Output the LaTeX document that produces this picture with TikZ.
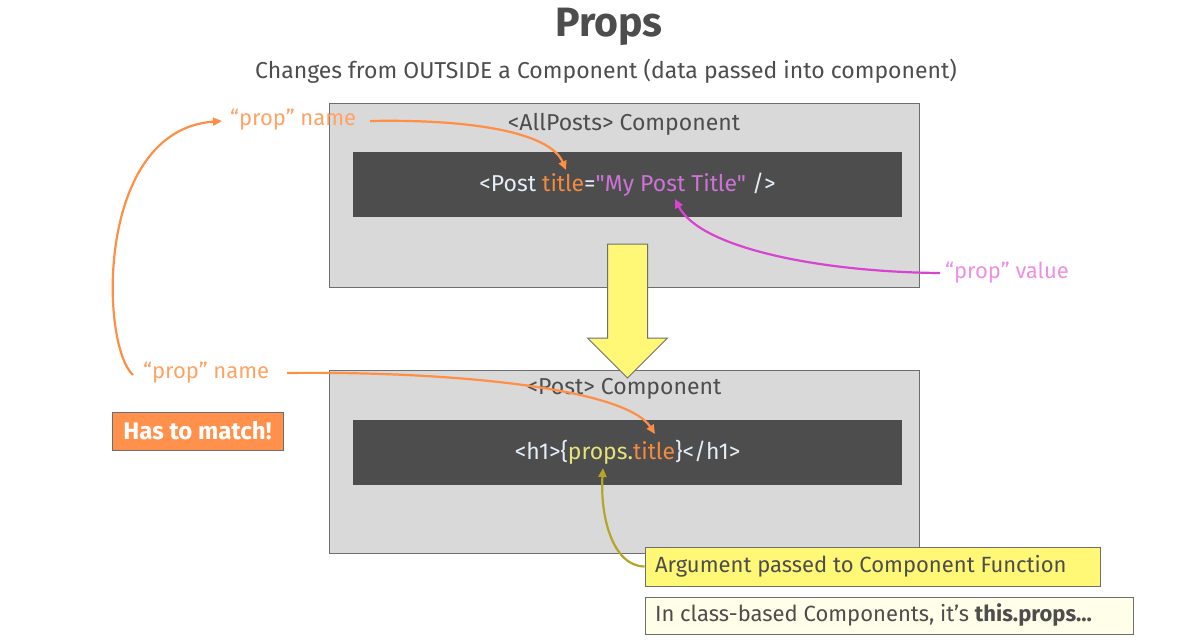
\documentclass[tikz,border=0pt]{standalone}
\usepackage{fontspec}
\setmainfont{Fira Sans}
\newfontfamily\codefont{Fira Sans}[Ligatures=TeXOff]
\usetikzlibrary{arrows.meta}
\definecolor{darkg}{HTML}{4D4D4D}
\definecolor{boxg}{HTML}{D9D9D9}
\definecolor{lineg}{HTML}{6E6E6E}
\definecolor{codew}{HTML}{E4EEF8}
\definecolor{orangel}{HTML}{FF8F45}
\definecolor{oranget}{HTML}{FFA365}
\definecolor{codeo}{HTML}{F28A3E}
\definecolor{magl}{HTML}{D744CF}
\definecolor{magt}{HTML}{EE90E2}
\definecolor{codep}{HTML}{CC74D6}
\definecolor{codey}{HTML}{E6E27A}
\definecolor{olive}{HTML}{B3A62A}
\definecolor{yell}{HTML}{FFF876}
\definecolor{cream}{HTML}{FFFEE8}
\definecolor{matchf}{HTML}{FF914D}

\begin{document}
\begin{tikzpicture}[x=1pt,y=-1pt,
  outerbox/.style={draw=lineg,fill=boxg,line width=1pt,minimum width=590pt,minimum height=184pt,inner sep=0pt},
  codebox/.style={fill=darkg,minimum width=549pt,minimum height=65pt,inner sep=0pt},
  lbl/.style={font=\fontsize{22}{26}\selectfont,inner sep=2pt},
  codetxt/.style={font=\fontsize{23}{27}\selectfont\codefont,text=codew},
  notebox/.style={draw=lineg,line width=1pt,text=darkg,font=\fontsize{22}{26}\selectfont,inner xsep=0pt,inner ysep=0pt},
  orangearrow/.style={draw=orangel,line width=2.2pt,-{Triangle[length=9pt,width=8pt]}},
  magarrow/.style={draw=magl,line width=2.2pt,-{Triangle[length=9pt,width=8pt]}},
  olivearrow/.style={draw=olive,line width=2.2pt,-{Triangle[length=9pt,width=8pt]}}]
\useasboundingbox (0,0) rectangle (1204,643);
\node[text=darkg,font=\fontsize{41}{44}\selectfont\bfseries] (title) at (609,27) {Props};
\node[text=darkg,font=\fontsize{23}{26}\selectfont] (sub) at (606,71) {Changes from OUTSIDE a Component (data passed into component)};
\node[outerbox] (allposts) at (624,195) {};
\node[codebox] (code1) at (627.5,184.5) {};
\node[codetxt,text=darkg] (allname) at (624,124) {<AllPosts> Component};
\node[codetxt] (code1txt) at (627.5,185) {<Post \textcolor{codeo}{title}=\textcolor{codep}{"My Post Title"} />};
\node[outerbox,minimum height=183pt] (post) at (624,461.5) {};
\node[codebox] (code2) at (627.5,452.5) {};
\node[codetxt,text=darkg] (postname) at (624,389) {<Post> Component};
\node[codetxt] (code2txt) at (627.5,452) {<h1>\{\textcolor{codey}{props.}\textcolor{codeo}{title}\}</h1>};
\filldraw[fill=yell,draw=lineg,line width=1pt] (607.5,244) -- (647.5,244) -- (647.5,338) -- (667.5,338) -- (627.5,378) -- (587.5,338) -- (607.5,338) -- cycle;
\node[lbl,text=oranget,anchor=west] (pnameA) at (228,120) {“prop” name};
\node[lbl,text=oranget,anchor=west] (pnameB) at (141,373) {“prop” name};
\node[lbl,text=magt,anchor=west] (pvalue) at (943,273) {“prop” value};
\node[fill=matchf,draw=lineg,line width=1pt,text=white,font=\fontsize{24}{28}\selectfont\bfseries,minimum width=171pt,minimum height=38pt,inner sep=0pt] (match) at (197.5,431) {Has to match!};
\node[notebox,fill=yell,minimum height=39pt] (argbox) at (872.5,566.5) {\makebox[455pt][l]{\hspace{10pt}Argument passed to Component Function}};
\node[notebox,fill=cream,minimum height=37pt] (classbox) at (889,615.5) {\makebox[488pt][l]{\hspace{10pt}In class-based Components, it’s \textbf{this.props...}}};
\coordinate (titleA) at (566,170);
\coordinate (titleB) at (655,434);
\coordinate (valuetip) at (675,199);
\coordinate (propstip) at (603,468);
\coordinate (nameAend) at (222,121);
\coordinate (nameBstart) at (133,375);
\coordinate (nameAstart) at (370,121);
\coordinate (nameBrow) at (287,373);
\coordinate (valuestart) at (940,273);
\draw[orangearrow] (nameBstart) .. controls (100,345) and (95,130) .. (nameAend);
\draw[orangearrow] (nameAstart) .. controls (470,119) and (550,132) .. (titleA);
\draw[orangearrow] (nameBrow) .. controls (450,371) and (625,388) .. (titleB);
\draw[magarrow] (valuestart) .. controls (820,272) and (700,248) .. (valuetip);
\draw[olivearrow] (argbox.west) .. controls (612,566) and (600,515) .. (propstip);
\end{tikzpicture}
\end{document}
